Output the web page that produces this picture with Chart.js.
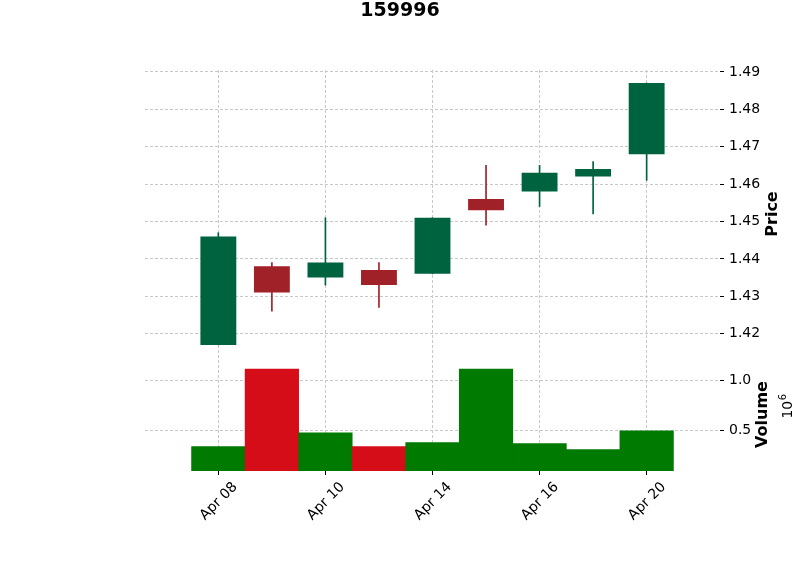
<!DOCTYPE html>
<html lang="en">
<head>
  <meta charset="UTF-8">
  <title>159996</title>
  <script src="https://cdn.jsdelivr.net/npm/chart.js"></script>
  <style>
    html, body { margin: 0; padding: 0; background: #fff; }
    #wrap { width: 800px; height: 575px; }
  </style>
</head>
<body>
  <div id="wrap"><canvas id="ohlcChart" width="800" height="575"></canvas></div>
  <script>
    // daily bars
    const dates  = ['Apr 08', 'Apr 09', 'Apr 10', 'Apr 13', 'Apr 14', 'Apr 15', 'Apr 16', 'Apr 17', 'Apr 20'];
    const opens  = [1.417, 1.438, 1.435, 1.437, 1.436, 1.456, 1.458, 1.462, 1.468];
    const highs  = [1.447, 1.439, 1.451, 1.439, 1.451, 1.465, 1.465, 1.466, 1.487];
    const lows   = [1.417, 1.426, 1.433, 1.427, 1.436, 1.449, 1.454, 1.452, 1.461];
    const closes = [1.446, 1.431, 1.439, 1.433, 1.451, 1.453, 1.463, 1.464, 1.487];
    const volumes = [336000, 1111000, 474000, 336000, 375000, 1111000, 366000, 307000, 493000];
    const priceTicks = [1.42, 1.43, 1.44, 1.45, 1.46, 1.47, 1.48, 1.49];
    const volumeTicks = [500000, 1000000];

    const UP = '#006340', DOWN = '#a02128';
    const VOL_UP = '#007a00', VOL_DOWN = '#d50d18';
    const GRID = '#c8c8c8';

    const candleColors = opens.map((o, i) => closes[i] >= o ? UP : DOWN);
    const volColors = closes.map((c, i) => (i === 0 || c >= closes[i - 1]) ? VOL_UP : VOL_DOWN);

    Chart.defaults.font.family = 'DejaVu Sans';
    Chart.defaults.font.size = 14;
    Chart.defaults.color = '#000';

    // title and axis titles drawn by hand so they sit like matplotlib's
    const textLayer = {
      id: 'textLayer',
      afterDraw(chart) {
        const ctx = chart.ctx;
        const py = chart.scales.y, vy = chart.scales.yv;
        const put = (text, x, y, font, rot) => {
          ctx.save();
          ctx.translate(x, y);
          ctx.rotate(rot);
          ctx.font = font;
          ctx.fillStyle = '#000';
          ctx.textAlign = 'center';
          ctx.textBaseline = 'middle';
          ctx.fillText(text, 0, 0);
          ctx.restore();
        };
        put('159996', chart.width / 2, 11, 'bold 19px "DejaVu Sans"', 0);
        put('Price', py.left + 53, (py.top + py.bottom) / 2, 'bold 16px "DejaVu Sans"', -Math.PI / 2);
        put('Volume', vy.left + 43, (vy.top + vy.bottom) / 2, 'bold 16px "DejaVu Sans"', -Math.PI / 2);

        // offset text "10^6" for the volume axis
        ctx.save();
        ctx.translate(vy.left + 68, (vy.top + vy.bottom) / 2 - 8);
        ctx.rotate(-Math.PI / 2);
        ctx.fillStyle = '#000';
        ctx.textBaseline = 'middle';
        ctx.textAlign = 'left';
        ctx.font = '14px "DejaVu Sans"';
        const w10 = ctx.measureText('10').width;
        ctx.font = '10px "DejaVu Sans"';
        const w6 = ctx.measureText('6').width;
        const x0 = -(w10 + w6) / 2;
        ctx.font = '14px "DejaVu Sans"';
        ctx.fillText('10', x0, 0);
        ctx.font = '10px "DejaVu Sans"';
        ctx.fillText('6', x0 + w10 + 0.5, -5);
        ctx.restore();
      }
    };

    const gridStyle = { color: GRID, tickColor: '#000', tickLength: 4, offset: false };
    const noSpine = { display: false, dash: [3, 2] };

    const ctx = document.getElementById('ohlcChart').getContext('2d');
    new Chart(ctx, {
      type: 'bar',
      data: {
        datasets: [
          {
            label: 'wick',
            data: dates.map((d, i) => ({ x: i, y: [lows[i], highs[i]] })),
            backgroundColor: candleColors,
            barThickness: 1,
            grouped: false,
            yAxisID: 'y',
            order: 2
          },
          {
            label: 'body',
            data: dates.map((d, i) => ({ x: i, y: [opens[i], closes[i]] })),
            backgroundColor: candleColors,
            barPercentage: 0.67,
            categoryPercentage: 1,
            grouped: false,
            yAxisID: 'y',
            order: 1
          },
          {
            label: 'volume',
            data: dates.map((d, i) => ({ x: i, y: volumes[i] })),
            backgroundColor: volColors,
            barPercentage: 1,
            categoryPercentage: 1,
            grouped: false,
            yAxisID: 'yv'
          }
        ]
      },
      options: {
        responsive: false,
        animation: false,
        layout: { padding: { left: 145, right: 0, top: 70, bottom: 0 } },
        plugins: {
          legend: { display: false },
          tooltip: { enabled: false },
          title: { display: false }
        },
        scales: {
          x: {
            type: 'linear',
            offset: false,
            min: -1.37,
            max: 9.37,
            afterBuildTicks: (scale) => {
              scale.ticks = dates.map((d, i) => i).filter(i => i % 2 === 0).map(v => ({ value: v }));
            },
            afterFit: (scale) => { scale.height = 104; },
            ticks: {
              minRotation: 45,
              maxRotation: 45,
              autoSkip: false,
              padding: 4,
              labelOffset: 17,
              callback: (v) => dates[v]
            },
            grid: gridStyle,
            border: noSpine
          },
          y: {
            position: 'right',
            stack: 'panels',
            stackWeight: 288,
            min: 1.4135,
            max: 1.4905,
            afterBuildTicks: (scale) => { scale.ticks = priceTicks.map(v => ({ value: v })); },
            afterFit: (scale) => { scale.width = 80; },
            ticks: { padding: 5, callback: (v) => v.toFixed(2) },
            grid: gridStyle,
            border: noSpine
          },
          yv: {
            position: 'right',
            stack: 'panels',
            stackWeight: 113,
            min: 92000,
            max: 1222000,
            afterBuildTicks: (scale) => { scale.ticks = volumeTicks.map(v => ({ value: v })); },
            afterFit: (scale) => { scale.width = 80; },
            ticks: { padding: 5, callback: (v) => (v / 1e6).toFixed(1) },
            grid: gridStyle,
            border: noSpine
          }
        }
      },
      plugins: [textLayer]
    });
  </script>
</body>
</html>
